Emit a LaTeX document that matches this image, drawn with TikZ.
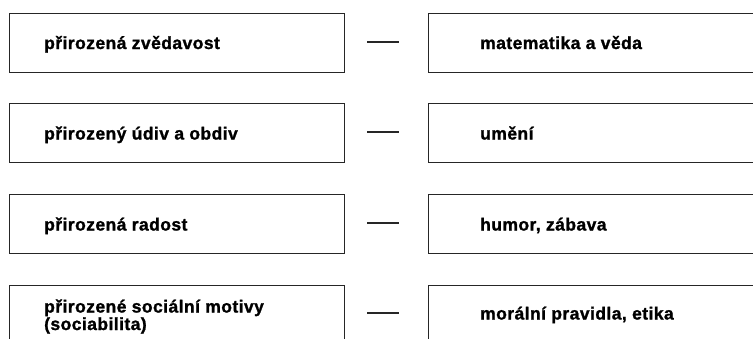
\documentclass[tikz,border=0pt]{standalone}
\usepackage{fontspec}
\setmainfont{Liberation Sans}[BoldFeatures={FakeBold=1.3,LetterSpace=2.5}]
\usetikzlibrary{calc}
\begin{document}
\begin{tikzpicture}[x=1pt,y=-1pt,
  box/.style={draw=black!85, line width=1.1pt, rectangle, inner sep=0pt, anchor=north west},
  lbl/.style={anchor=base west, inner sep=0pt, font=\fontsize{17.5}{17.5}\selectfont\bfseries, align=left},
  link/.style={draw=black!85, line width=1.1pt}]
\useasboundingbox (0,0) rectangle (753,338);
% row boxes
\node[box, minimum width=335, minimum height=59] (L1) at (8.5,12.5) {};
\node[box, minimum width=340, minimum height=59] (R1) at (428,12.5) {};
\node[box, minimum width=335, minimum height=59] (L2) at (8.5,103) {};
\node[box, minimum width=340, minimum height=59] (R2) at (428,103) {};
\node[box, minimum width=335, minimum height=59] (L3) at (8.5,194) {};
\node[box, minimum width=340, minimum height=59] (R3) at (428,194) {};
\node[box, minimum width=335, minimum height=70] (L4) at (8.5,284.5) {};
\node[box, minimum width=340, minimum height=70] (R4) at (428,284.5) {};
% texts
\node[lbl] (tL1) at (44,49) {přirozená zvědavost};
\node[lbl] (tR1) at (480,49) {matematika a věda};
\node[lbl] (tL2) at (44,139.5) {přirozený údiv a obdiv};
\node[lbl] (tR2) at (480,139.5) {umění};
\node[lbl] (tL3) at (44,230.5) {přirozená radost};
\node[lbl] (tR3) at (480,230.5) {humor, zábava};
\node[lbl] (tL4) at (44,330) {přirozené sociální motivy\\(sociabilita)};
\node[lbl] (tR4) at (480,319.5) {morální pravidla, etika};
% connectors
\coordinate (a1) at (367,42);  \coordinate (b1) at (399,42);
\coordinate (a2) at (367,132); \coordinate (b2) at (399,132);
\coordinate (a3) at (367,223); \coordinate (b3) at (399,223);
\coordinate (a4) at (367,313); \coordinate (b4) at (399,313);
\draw[link] (a1) -- (b1);
\draw[link] (a2) -- (b2);
\draw[link] (a3) -- (b3);
\draw[link] (a4) -- (b4);
\end{tikzpicture}
\end{document}
